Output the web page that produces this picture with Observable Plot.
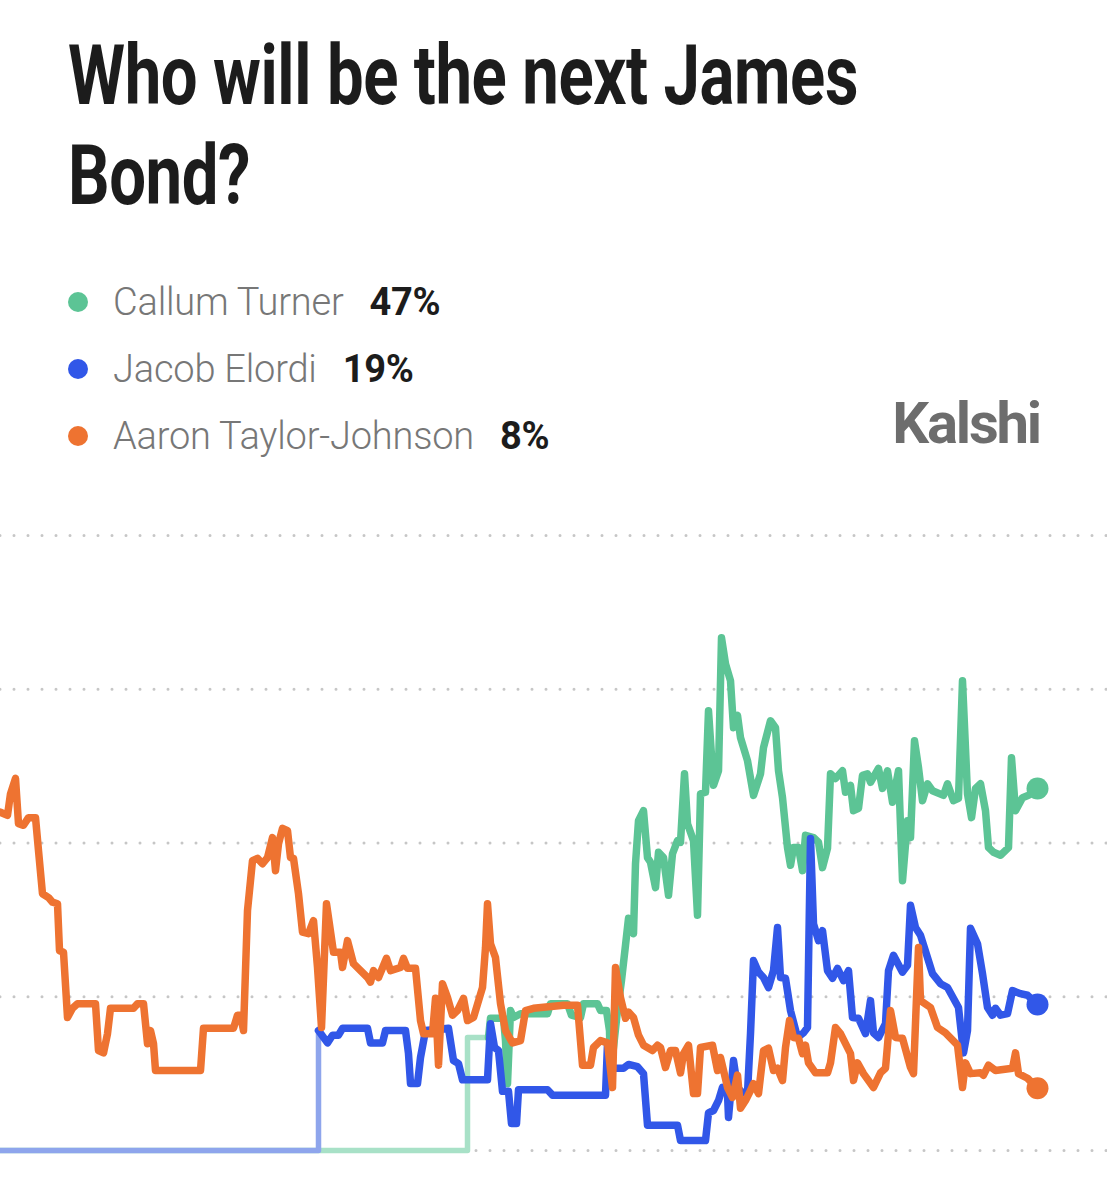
<!DOCTYPE html>
<html>
<head>
<meta charset="utf-8">
<script src="https://cdn.jsdelivr.net/npm/d3@7"></script>
<script src="https://cdn.jsdelivr.net/npm/@observablehq/plot@0.6"></script>
<style>
  html, body { margin: 0; padding: 0; background: #fff; }
  body { width: 1107px; height: 1200px; overflow: hidden; position: relative; font-family: Roboto, "Noto Sans", sans-serif; }
  .tline { position: absolute; left: 68px; font-size: 84px; line-height: 84px; font-weight: 700; color: #1c1c1c; white-space: nowrap; transform-origin: 0 0; letter-spacing: -0.5px; }
  .leg { position: absolute; left: 68px; height: 38px; font-size: 38px; line-height: 38px; white-space: nowrap; }
  .leg .dot { position: absolute; left: 0; top: 9px; width: 20px; height: 20px; border-radius: 50%; }
  .leg .name { position: absolute; left: 45px; top: 0; color: #777; font-weight: 300; letter-spacing: -0.2px; }
  .leg .pct { font-weight: 700; color: #1c1c1c; margin-left: 26px; letter-spacing: -0.3px; }
  #kalshi { position: absolute; right: 67px; top: 394px; font-size: 58px; line-height: 58px; font-weight: 700; color: #6d6d6d; letter-spacing: -2.2px; }
  #chart { position: absolute; left: 0; top: 500px; }
</style>
</head>
<body>
<div class="tline" id="t1"></div>
<div class="tline" id="t2"></div>
<div id="legend"></div>
<div id="kalshi">Kalshi</div>
<div id="chart"></div>
<script>
// ---- Text ----
const titleLines = ["Who will be the next James", "Bond?"];
const names = ["Callum Turner", "Jacob Elordi", "Aaron Taylor-Johnson"];
const latest = [47, 19, 8];
const colors = ["#5cc495", "#3157e8", "#ee7331"];
const fadedColors = ["#a8e1c7", "#8ea5ec"];
const gridTicks = [0, 20, 40, 60, 80];

// ---- Data (t = time step, v = probability %) ----
// Callum Turner
const greenPreT = [0, 467, 467, 488];
const greenPreV = [0, 0, 14.7, 14.7];
const greenT = [488,490,503,505,507,510,513,520,547,550,567,571,580,583,597,600,606,609,610,617,621,625,628,633,635,638,643,647,650,655,658,663,668,672,677,680,684,687,693,697,700,705,708,713,718,721,725,730,733,737,740,747,753,760,763,770,775,778,782,787,790,793,798,802,805,813,818,822,827,830,835,842,845,850,853,858,862,867,870,878,882,887,892,898,902,907,910,914,918,922,927,932,943,947,953,958,962,967,971,975,980,985,988,993,1000,1008,1011,1015,1022,1028,1037];
const greenV = [14.7,17.2,17.2,14.3,8.7,18.2,17.3,17.8,17.8,19.1,19.1,17.6,17.3,19.1,19.1,18.2,18.2,15.6,9.8,18.2,22.1,26.7,30.2,28.2,37.3,42.9,44.2,38.1,37.5,34.2,38.8,38.1,33.2,38.6,40.3,40.1,49.0,42.5,40.3,30.6,46.4,46.6,57.2,47.5,49.4,66.7,63.3,61.1,55.0,56.6,53.7,50.7,46.2,49.0,52.4,55.9,55.0,49.4,45.9,39.4,37.1,39.4,39.4,36.4,41.0,40.7,40.1,36.8,39.3,49.0,48.4,49.4,46.6,47.5,44.2,44.5,48.8,49.0,47.9,49.7,47.1,49.4,45.3,49.4,35.1,42.9,40.7,53.3,49.8,45.5,47.7,46.8,46.2,47.7,45.5,45.8,61.1,46.4,43.3,47.1,47.7,44.2,39.4,38.8,38.4,39.4,51.1,44.2,45.9,46.2,47.1];

// Jacob Elordi
const bluePreT = [0, 318, 318];
const bluePreV = [0, 0, 15.6];
const blueT = [318,327,332,338,342,367,370,382,385,405,408,410,417,420,425,448,453,458,462,487,490,494,498,502,508,511,516,518,547,552,605,607,610,623,628,637,643,647,677,680,705,708,713,718,722,727,728,733,737,742,747,750,753,758,763,768,773,777,780,785,790,797,803,807,810,813,818,822,827,832,837,843,848,852,858,865,870,873,878,885,888,893,902,907,910,915,920,927,932,940,947,958,963,967,970,977,982,987,992,995,1000,1007,1012,1020,1027,1037];
const blueV = [15.6,14.0,15.0,15.0,15.9,15.9,14.0,14.0,15.6,15.6,12.6,8.7,8.7,12.1,15.6,15.9,11.7,11.3,9.2,9.2,16.5,13.4,13.0,7.7,7.7,3.5,3.5,7.9,7.9,7.2,7.2,13.9,10.7,10.7,11.2,10.9,10.0,3.3,3.3,1.3,1.3,4.9,5.2,6.5,8.2,7.4,4.3,11.7,8.2,7.5,7.5,15.2,24.7,23.2,22.5,21.2,23.4,29.0,22.5,22.4,18.2,14.7,15.3,16.0,40.6,29.5,27.3,28.6,23.4,22.4,23.7,22.1,23.4,17.3,17.2,15.2,19.5,15.3,14.7,16.5,23.4,25.4,23.2,24.1,31.9,29.0,28.0,25.1,23.0,21.7,21.2,18.6,12.7,15.6,28.9,26.9,23.0,18.6,17.6,18.5,17.6,17.8,20.8,20.4,20.2,19.0];

// Aaron Taylor-Johnson
const orangeT = [0,7,10,15,18,23,28,35,38,42,48,52,57,59,63,67,72,77,95,98,103,107,110,133,137,143,147,150,153,155,200,203,233,237,240,243,247,252,257,262,267,272,275,278,282,287,290,293,298,302,308,313,317,321,326,333,340,342,347,353,367,370,373,378,386,390,400,403,407,415,420,423,432,435,438,442,447,452,457,463,467,473,482,485,487,490,495,500,505,512,520,525,533,563,577,582,590,593,600,607,612,615,620,625,628,633,638,643,652,657,660,665,670,675,680,683,688,693,697,700,712,717,720,727,732,737,740,745,750,753,758,763,768,773,777,782,785,789,793,798,802,805,808,815,827,830,835,840,850,853,857,863,873,880,885,890,895,902,910,913,918,920,930,937,945,957,962,965,970,980,983,988,995,1012,1015,1018,1027,1037];
const orangeV = [44.0,43.6,46.4,48.4,42.5,42.3,43.3,43.3,39.0,33.4,32.9,32.3,32.1,26.0,25.8,17.3,18.5,19.1,19.1,13.0,12.7,15.2,18.5,18.5,19.1,19.1,13.9,15.6,13.9,10.4,10.4,15.9,15.9,17.6,17.6,15.6,31.2,37.7,38.0,37.3,38.1,40.7,36.4,39.9,41.9,41.6,38.1,38.0,33.4,28.4,28.2,29.9,23.8,16.0,32.1,25.8,25.8,23.8,27.3,24.3,22.5,21.9,23.4,22.5,25.0,23.4,23.8,25.0,23.7,23.7,16.9,15.2,15.2,19.8,11.1,21.7,19.9,17.6,18.2,19.8,16.9,17.3,21.2,26.4,32.1,26.9,25.1,19.1,15.6,14.0,14.3,18.2,18.5,18.9,18.9,11.1,11.1,13.4,14.3,14.0,8.2,23.8,19.9,17.2,18.0,17.3,15.0,13.7,13.0,13.7,13.4,10.8,13.0,13.0,10.1,12.6,13.7,7.4,7.4,13.4,13.7,10.4,12.1,8.2,6.9,9.8,5.5,6.5,7.8,8.7,7.4,13.0,13.3,10.4,10.7,9.1,13.4,16.9,14.7,14.6,12.6,13.7,11.4,10.1,10.1,11.4,16.0,15.2,12.6,9.1,11.4,10.0,8.2,10.1,10.7,18.2,14.7,14.6,10.8,10.0,26.4,19.5,18.6,16.0,15.3,13.7,8.2,11.4,10.0,10.1,9.8,11.1,10.4,10.7,12.7,10.0,9.4,8.1];

const zip = (ts, vs) => ts.map((t, i) => ({ t, v: vs[i] }));
const green = zip(greenT, greenV), blue = zip(blueT, blueV), orange = zip(orangeT, orangeV);
const greenPre = zip(greenPreT, greenPreV), bluePre = zip(bluePreT, bluePreV);

// ---- Header ----
const t1 = document.getElementById("t1"), t2 = document.getElementById("t2");
t1.textContent = titleLines[0]; t2.textContent = titleLines[1];
t1.style.top = "34px"; t2.style.top = "134px";
const w1 = t1.getBoundingClientRect().width;
const sx = 790 / w1;
t1.style.transform = `scaleX(${sx})`;
t2.style.transform = `scaleX(${sx})`;

const legend = document.getElementById("legend");
const legTops = [283, 350, 417];
names.forEach((n, i) => {
  const d = document.createElement("div");
  d.className = "leg";
  d.style.top = legTops[i] + "px";
  d.innerHTML = `<span class="dot" style="background:${colors[i]}"></span><span class="name">${n}<span class="pct">${latest[i]}%</span></span>`;
  legend.appendChild(d);
});

// ---- Chart ----
const lineOpts = { x: "t", y: "v", strokeWidth: 7.5, strokeLinejoin: "round", strokeLinecap: "round" };
const chart = Plot.plot({
  width: 1107,
  height: 680,
  marginTop: 35,
  marginBottom: 30,
  marginLeft: 0,
  marginRight: 0,
  x: { domain: [0, 1107], axis: null },
  y: { domain: [0, 80], axis: null },
  marks: [
    Plot.ruleY(gridTicks, { stroke: "#c6c6c6", strokeWidth: 3, strokeDasharray: "0,14", strokeLinecap: "round" }),
    Plot.line(greenPre, { ...lineOpts, stroke: fadedColors[0], strokeWidth: 5.5 }),
    Plot.line(bluePre, { ...lineOpts, stroke: fadedColors[1], strokeWidth: 5.5 }),
    Plot.line(green, { ...lineOpts, stroke: colors[0] }),
    Plot.line(blue, { ...lineOpts, stroke: colors[1] }),
    Plot.line(orange, { ...lineOpts, stroke: colors[2] }),
    Plot.dot([green.at(-1)], { x: "t", y: "v", r: 11, fill: colors[0] }),
    Plot.dot([blue.at(-1)], { x: "t", y: "v", r: 11, fill: colors[1] }),
    Plot.dot([orange.at(-1)], { x: "t", y: "v", r: 11, fill: colors[2] })
  ]
});
document.getElementById("chart").appendChild(chart);
</script>
</body>
</html>
